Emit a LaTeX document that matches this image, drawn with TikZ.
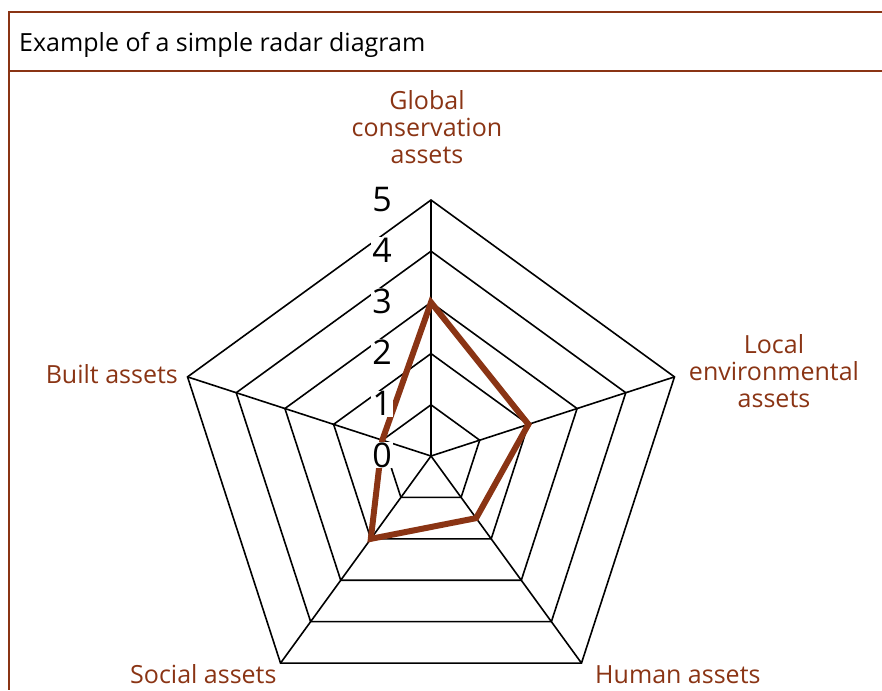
\documentclass[tikz,border=0pt]{standalone}
\usepackage{fontspec}
\setmainfont{Open Sans}
\definecolor{brn}{HTML}{8A3414}
\begin{document}
\begin{tikzpicture}[x=1pt,y=-1pt,
  gridline/.style={black, line width=1.6pt, line join=miter},
  frameline/.style={brn, line width=2.6pt},
  sideline/.style={brn, line width=1.8pt},
  axlabel/.style={text=brn, font=\fontsize{25}{27}\selectfont, align=center, inner sep=0pt},
  numlabel/.style={font=\fontsize{34}{34}\selectfont, fill=white, inner sep=0.8pt, anchor=base},
  dataline/.style={brn, line width=6pt, line join=miter},
  titletext/.style={font=\fontsize{25}{30}\selectfont, anchor=base west, inner sep=0pt}]
\useasboundingbox (0,0) rectangle (882,690);
% frame
\draw[sideline] (9,12) -- (9,690);
\draw[frameline] (882,12) -- (9,12) -- (9,71) -- (882,71);
\node[titletext] (title) at (19,52) {Example of a simple radar diagram};
% grid coordinates
\coordinate (C) at (431,456);
\foreach \k in {1,...,5}{
  \foreach \i/\a in {1/90,2/18,3/-54,4/-126,5/162}{
    \coordinate (P\k-\i) at ({431+51.2*\k*cos(\a)},{456-51.2*\k*sin(\a)});
  }
}
\foreach \k in {1,...,5}{
  \draw[gridline] (P\k-1) -- (P\k-2) -- (P\k-3) -- (P\k-4) -- (P\k-5) -- cycle;
}
\foreach \i in {1,...,5}{
  \draw[gridline] (C) -- (P5-\i);
}
% data
\foreach \i/\a/\v in {1/90/3,2/18/2,3/-54/1.5,4/-126/2,5/162/1}{
  \coordinate (D\i) at ({431+51.2*\v*cos(\a)},{456-51.2*\v*sin(\a)});
}
\draw[dataline] (D1) -- (D2) -- (D3) -- (D4) -- (D5) -- cycle;
% scale numbers
\foreach \k in {0,...,5}{
  \node[numlabel] (n\k) at (382,{467-51.2*\k}) {\k};
}
% axis labels
\node[axlabel, anchor=base] (global) at (427,163) {Global\\conservation\\assets};
\node[axlabel, anchor=base] (local) at (774,407) {Local\\environmental\\assets};
\node[axlabel, anchor=base east] (built) at (178,383) {Built assets};
\node[axlabel, anchor=base west] (social) at (130,683) {Social assets};
\node[axlabel, anchor=base west] (human) at (595,683) {Human assets};
\end{tikzpicture}
\end{document}
